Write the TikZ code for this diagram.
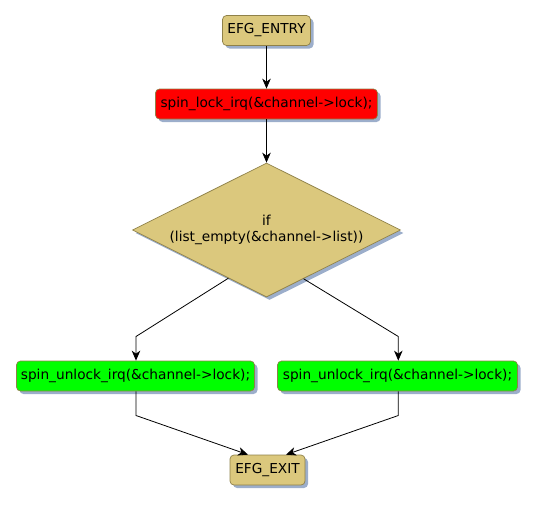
\documentclass[tikz,border=0pt]{standalone}
\usepackage{fontspec}
\setmainfont{DejaVu Sans}
\usetikzlibrary{shapes.geometric,shadows,arrows.meta,calc}
\definecolor{tan}{HTML}{DBC87D}
\definecolor{bd}{HTML}{8F8149}
\definecolor{shd}{HTML}{9CAECB}
\definecolor{redf}{HTML}{FF0000}
\definecolor{greenf}{HTML}{00FF00}
\begin{document}
\begin{tikzpicture}[x=1pt,y=-1pt,
  base/.style={draw=bd,line width=0.7pt,
    drop shadow={shadow xshift=3pt,shadow yshift=-3pt,fill=shd,opacity=1},
    font=\fontsize{13.7}{16}\selectfont,inner sep=0pt},
  boxnode/.style={base,rectangle,rounded corners=4pt,minimum height=30pt},
  conn/.style={line width=0.8pt,-{Stealth[length=10pt,width=8.5pt,inset=3pt]}}]
\useasboundingbox (0,0) rectangle (537,504);
\node[boxnode,fill=tan,minimum width=88pt] (entry) at (266.5,30.5) {EFG\_ENTRY};
\node[boxnode,fill=redf,minimum width=222pt] (lock) at (266.5,104) {spin\_lock\_irq(\&channel->lock);};
\node[base,diamond,fill=tan,minimum width=268pt,minimum height=134pt] (dia) at (266.5,230) {};
\node[font=\fontsize{13.7}{16.5}\selectfont,align=center,inner sep=0pt] (diat) at (266.5,230) {if\\(list\_empty(\&channel->list))};
\node[boxnode,fill=greenf,minimum width=238pt] (ul) at (135.5,376) {spin\_unlock\_irq(\&channel->lock);};
\node[boxnode,fill=greenf,minimum width=240pt] (ur) at (397.5,376) {spin\_unlock\_irq(\&channel->lock);};
\node[boxnode,fill=tan,minimum width=75pt] (exit) at (267.5,470) {EFG\_EXIT};
\coordinate (bl) at (136,336.5);
\coordinate (br) at (398.3,336.5);
\coordinate (dl) at ($(dia.west)!0.716!(dia.south)$);
\coordinate (dr) at ($(dia.south)!0.276!(dia.east)$);
\coordinate (cl) at (136,415.5);
\coordinate (cr) at (398.3,415.5);
\draw[conn] (entry.south) -- (lock.north);
\draw[conn] (lock.south) -- (dia.north);
\draw[conn] (dl) -- (bl) -- (bl |- ul.north);
\draw[conn] (dr) -- (br) -- (br |- ur.north);
\draw[conn] (ul.south -| cl) -- (cl) -- (exit.north -| 248,0);
\draw[conn] (ur.south -| cr) -- (cr) -- (exit.north -| 286,0);
\end{tikzpicture}
\end{document}
